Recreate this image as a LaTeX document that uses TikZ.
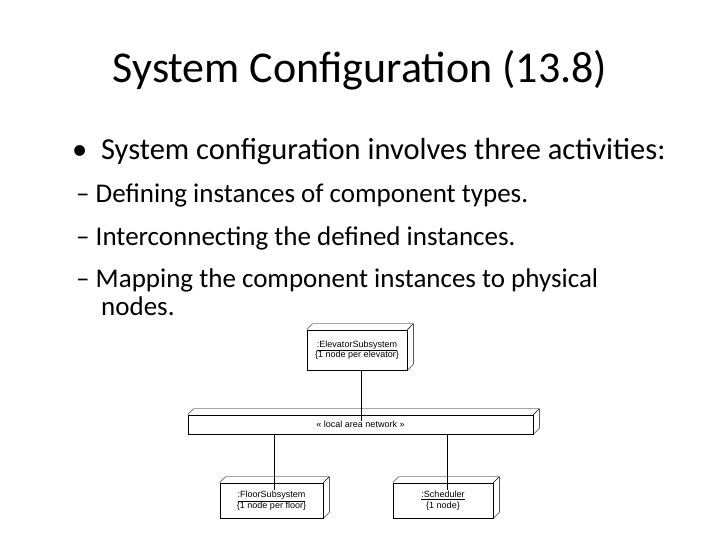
\documentclass[tikz,border=0pt]{standalone}
\usepackage{fontspec}
\setmainfont{Carlito}
\newfontfamily\umlfont{Liberation Sans}
\usetikzlibrary{calc}

\newcommand{\depth}[1]{%
  \draw (#1.north west) -- ++(6,-6) -| ($(#1.south east)+(6,-6)$) -- (#1.south east);
  \draw (#1.north east) -- ++(6,-6);}

\begin{document}
\begin{tikzpicture}[
  x=1pt,y=-1pt,
  every node/.style={inner sep=0pt},
  title/.style={font=\fontsize{44}{48}\selectfont},
  item/.style={anchor=base west,font=\fontsize{30.5}{34}\selectfont},
  subitem/.style={anchor=base west,font=\fontsize{27}{30}\selectfont},
  umlnode/.style={draw,fill=white,line width=0.6pt,align=center,font=\umlfont\fontsize{9}{10.5}\selectfont},
  link/.style={line width=0.6pt}
]
\useasboundingbox (0,0) rectangle (720,540);

% ============================================================
% TEXT
% ============================================================

\node[title] (T) at (360,70) {System Configuration (13.8)};
\node[item] (B) at (72,160) {•\hspace{0.45em}System configuration involves three activities:};
\node[subitem] (S1) at (76,203) {– Defining instances of component types.};
\node[subitem] (S2) at (76,245) {– Interconnecting the defined instances.};
\node[subitem] (S3) at (76,287) {– Mapping the component instances to physical};
\node[subitem] (S4) at (101,315) {nodes.};

% ============================================================
% DEPLOYMENT DIAGRAM
% ============================================================

\node[umlnode,minimum width=100,minimum height=40] (Elev) at (357,350) {\underline{:ElevatorSubsystem}\\\{1 node per elevator\}};
\node[umlnode,minimum width=345,minimum height=19] (LAN) at (360.5,424.5) {« local area network »};
\node[umlnode,minimum width=103,minimum height=35] (Floor) at (271.5,500.5) {\underline{:FloorSubsystem}\\\{1 node per floor\}};
\node[umlnode,minimum width=100,minimum height=35] (Sched) at (443,500.5) {\underline{:Scheduler}\\\{1 node\}};

\depth{Elev}
\depth{LAN}
\depth{Floor}
\depth{Sched}

\draw[link] ([xshift=4]Elev.south) -- ([xshift=4,yshift=-6]Elev.south |- LAN.north);
\draw[link] ([xshift=2.5]Floor.north |- LAN.south) -- ([xshift=2.5,yshift=-7]Floor.north);
\draw[link] ([xshift=4]Sched.north |- LAN.south) -- ([xshift=4,yshift=-7]Sched.north);

\end{tikzpicture}
\end{document}
